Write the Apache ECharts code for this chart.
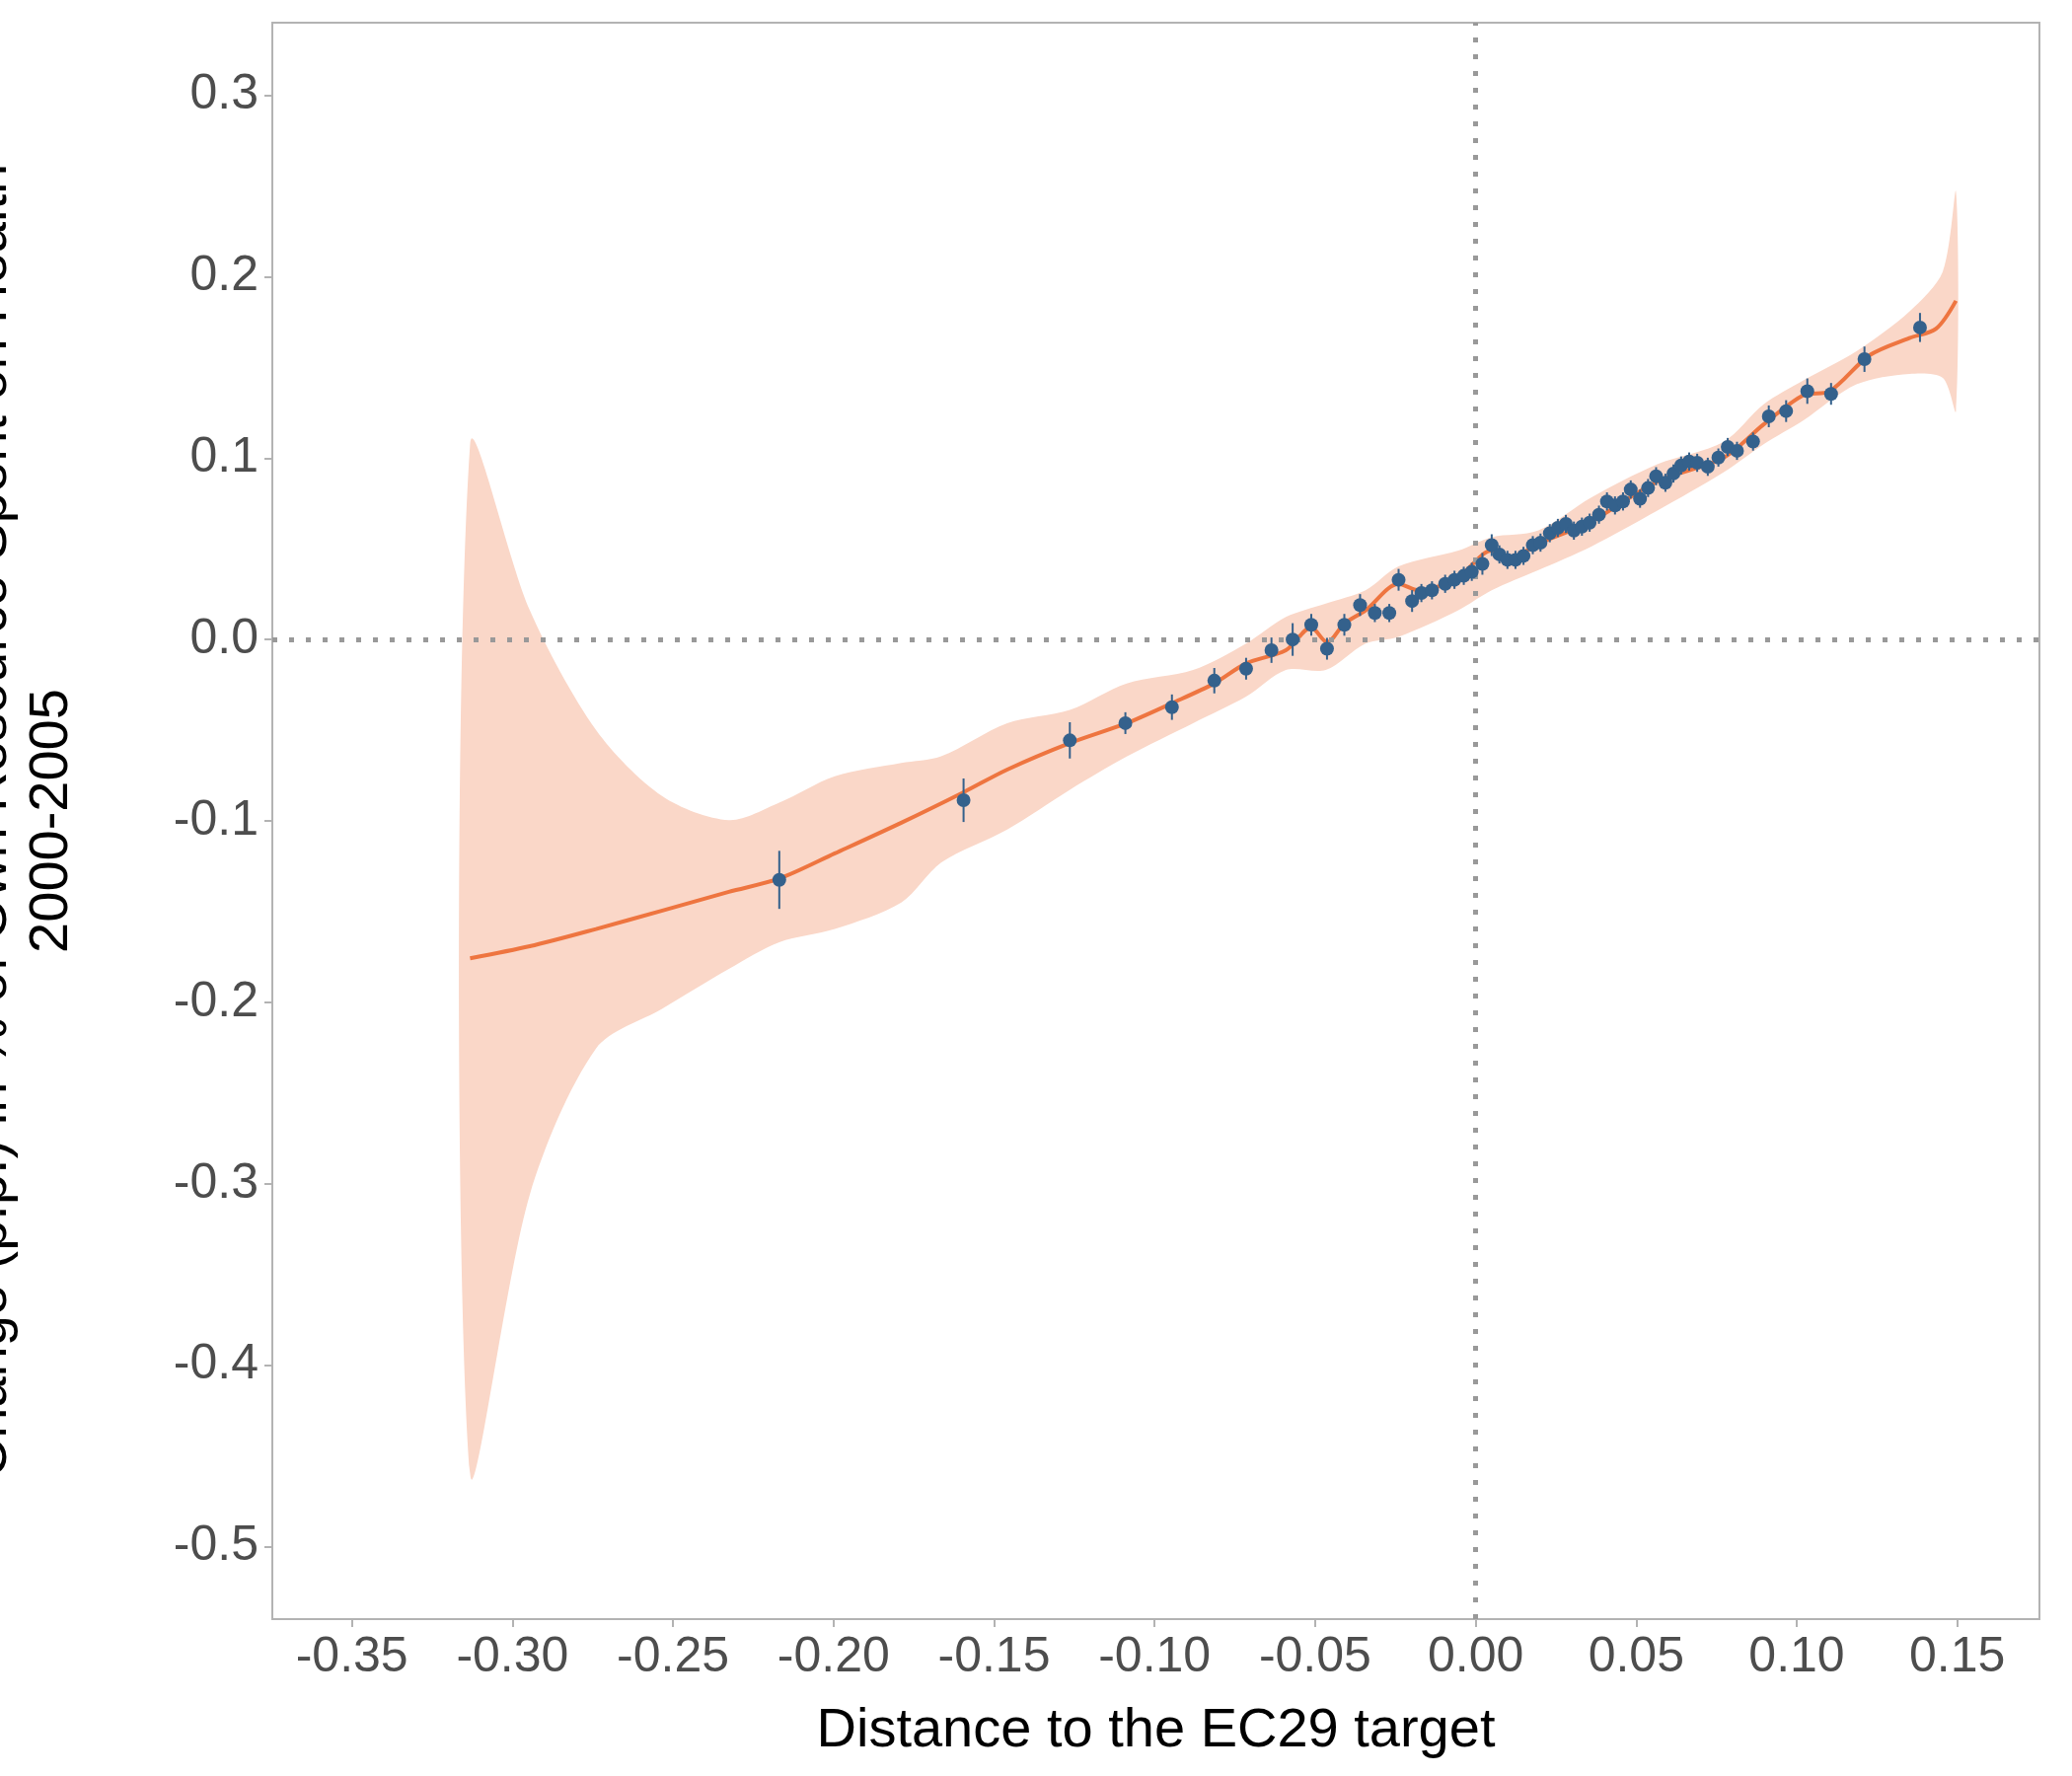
<!DOCTYPE html>
<html><head><meta charset="utf-8">
<script src="https://cdn.jsdelivr.net/npm/echarts@6/dist/echarts.min.js"></script>
<style>html,body{margin:0;background:#fff}#c{width:2100px;height:1800px}</style>
</head><body><div id="c"></div>
<script>
// fitted curve
const fitX = [-0.3132,-0.2946,-0.2740,-0.2533,-0.2326,-0.2169,-0.1996,-0.1789,-0.1595,-0.1459,-0.1264,-0.1087,-0.0946,-0.0814,-0.0715,-0.0591,-0.0512,-0.0463,-0.0409,-0.0343,-0.0240,-0.0178,-0.0054,0.0050,0.0112,0.0194,0.0360,0.0566,0.0773,0.0897,0.1021,0.1103,0.1227,0.1351,0.1434,0.1496];
const fitY = [-0.1757,-0.1691,-0.1596,-0.1494,-0.1391,-0.1318,-0.1179,-0.1010,-0.0842,-0.0717,-0.0571,-0.0461,-0.0351,-0.0242,-0.0132,-0.0059,0.0066,-0.0015,0.0088,0.0161,0.0307,0.0271,0.0344,0.0490,0.0454,0.0527,0.0651,0.0871,0.1003,0.1186,0.1347,0.1369,0.1567,0.1662,0.1713,0.1867];
// confidence band
const bandX = [-0.3132,-0.2946,-0.2740,-0.2533,-0.2326,-0.2169,-0.1996,-0.1789,-0.1665,-0.1459,-0.1264,-0.1087,-0.0880,-0.0715,-0.0591,-0.0467,-0.0343,-0.0240,-0.0054,0.0050,0.0194,0.0360,0.0566,0.0773,0.0897,0.1021,0.1186,0.1351,0.1455,0.1496];
const bandUp = [0.1076,0.0161,-0.0498,-0.0864,-0.0996,-0.0900,-0.0754,-0.0681,-0.0644,-0.0461,-0.0388,-0.0242,-0.0168,-0.0022,0.0124,0.0198,0.0271,0.0403,0.0490,0.0564,0.0600,0.0783,0.0966,0.1090,0.1296,0.1428,0.1589,0.1808,0.2028,0.2467];
const bandLo = [-0.4597,-0.3060,-0.2255,-0.2035,-0.1816,-0.1669,-0.1596,-0.1450,-0.1230,-0.1047,-0.0828,-0.0645,-0.0461,-0.0315,-0.0168,-0.0168,-0.0022,0.0015,0.0161,0.0271,0.0381,0.0512,0.0710,0.0922,0.1076,0.1208,0.1406,0.1464,0.1442,0.1259];
// binned points
const ptX = [-0.2169,-0.1595,-0.1264,-0.1091,-0.0946,-0.0814,-0.0715,-0.0636,-0.0570,-0.0512,-0.0463,-0.0409,-0.0360,-0.0314,-0.0269,-0.0240,-0.0198,-0.0169,-0.0136,-0.0095,-0.0066,-0.0037,-0.0012,0.0021,0.0050,0.0074,0.0099,0.0124,0.0149,0.0178,0.0202,0.0231,0.0256,0.0281,0.0306,0.0331,0.0355,0.0384,0.0409,0.0434,0.0459,0.0483,0.0512,0.0537,0.0562,0.0591,0.0616,0.0640,0.0665,0.0690,0.0723,0.0756,0.0785,0.0814,0.0864,0.0913,0.0967,0.1033,0.1107,0.1211,0.1384];
const ptY = [-0.1325,-0.0886,-0.0556,-0.0461,-0.0373,-0.0227,-0.0161,-0.0059,0.0,0.0081,-0.0051,0.0081,0.0190,0.0146,0.0146,0.0329,0.0212,0.0256,0.0271,0.0307,0.0329,0.0351,0.0373,0.0417,0.0520,0.0469,0.0439,0.0439,0.0461,0.0520,0.0534,0.0586,0.0615,0.0637,0.0600,0.0622,0.0644,0.0688,0.0761,0.0739,0.0761,0.0827,0.0776,0.0835,0.0900,0.0864,0.0915,0.0959,0.0981,0.0974,0.0952,0.1003,0.1061,0.1040,0.1091,0.1230,0.1259,0.1369,0.1354,0.1545,0.1720];
const ptErr = [0.016,0.012,0.010,0.006,0.007,0.007,0.006,0.007,0.009,0.006,0.006,0.006,0.006,0.005,0.005,0.006,0.006,0.005,0.005,0.005,0.005,0.005,0.005,0.006,0.006,0.005,0.005,0.005,0.005,0.005,0.005,0.005,0.005,0.005,0.005,0.005,0.005,0.005,0.005,0.005,0.005,0.005,0.005,0.005,0.005,0.005,0.005,0.005,0.005,0.005,0.005,0.005,0.005,0.005,0.005,0.006,0.006,0.007,0.006,0.007,0.008];
const xTicks = [-0.35,-0.30,-0.25,-0.20,-0.15,-0.10,-0.05,0.00,0.05,0.10,0.15];
const yTicks = [-0.5,-0.4,-0.3,-0.2,-0.1,0,0.1,0.2,0.3];

const chart = echarts.init(document.getElementById('c'));
const font = 'Arial, "Liberation Sans", sans-serif';
const axisCommon = {
  axisLine: { show: true, onZero: false, lineStyle: { color: '#b3b3b3', width: 2 } },
  splitLine: { show: false },
  nameTextStyle: { color: '#000', fontSize: 56, fontFamily: font }
};
const tick = vals => ({ show: true, length: 8, customValues: vals, lineStyle: { color: '#b3b3b3', width: 2 } });
const label = (vals, d) => ({ color: '#4d4d4d', fontSize: 50, fontFamily: font, margin: 14,
  customValues: vals, formatter: v => v.toFixed(d) });
chart.setOption({
  backgroundColor: '#fff',
  animation: false,
  grid: { left: 276, right: 33, top: 23, bottom: 159, show: true, borderColor: '#b3b3b3', borderWidth: 2,
    outerBoundsMode: 'none', containLabel: false },
  xAxis: Object.assign({}, axisCommon, {
    type: 'value', min: -0.3748, max: 0.1756,
    axisTick: tick(xTicks), axisLabel: label(xTicks, 2),
    name: 'Distance to the EC29 target', nameLocation: 'middle', nameGap: 86
  }),
  yAxis: Object.assign({}, axisCommon, {
    type: 'value', min: -0.54, max: 0.34,
    axisTick: tick(yTicks), axisLabel: label(yTicks, 1),
    name: 'Change (p.p.) in % of Own Resource Spent on Health\n2000-2005',
    nameLocation: 'middle', nameGap: 192, nameRotate: 90,
    nameTextStyle: { color: '#000', fontSize: 56, fontFamily: font, lineHeight: 62 }
  }),
  series: [
    { type: 'custom', silent: true, z: 1,
      renderItem: (params, api) => {
        if (params.dataIndex !== 0) return null;
        const pts = [];
        bandX.forEach((x, i) => pts.push(api.coord([x, bandUp[i]])));
        for (let i = bandX.length - 1; i >= 0; i--) pts.push(api.coord([bandX[i], bandLo[i]]));
        return { type: 'polygon', shape: { points: pts, smooth: 0.3 }, style: { fill: '#fad7c8' } };
      },
      data: bandX.map((x, i) => [x, bandUp[i], bandLo[i]]) },
    { type: 'line', symbol: 'none', smooth: 0.3, z: 3, lineStyle: { color: '#ee7540', width: 4 },
      data: fitX.map((x, i) => [x, fitY[i]]),
      markLine: { silent: true, symbol: 'none', label: { show: false },
        lineStyle: { color: '#999', type: [5, 12], width: 5 },
        data: [{ xAxis: 0 }, { yAxis: 0 }] } },
    { type: 'custom', z: 4,
      renderItem: (params, api) => {
        const x = api.value(0), y = api.value(1), e = api.value(2);
        const p1 = api.coord([x, y + e]), p2 = api.coord([x, y - e]);
        return { type: 'line', shape: { x1: p1[0], y1: p1[1], x2: p2[0], y2: p2[1] },
          style: { stroke: '#34618c', lineWidth: 2 } };
      },
      data: ptX.map((x, i) => [x, ptY[i], ptErr[i]]) },
    { type: 'scatter', symbolSize: 14, z: 5, itemStyle: { color: '#34618c', opacity: 1 },
      data: ptX.map((x, i) => [x, ptY[i]]) }
  ]
});
</script></body></html>
